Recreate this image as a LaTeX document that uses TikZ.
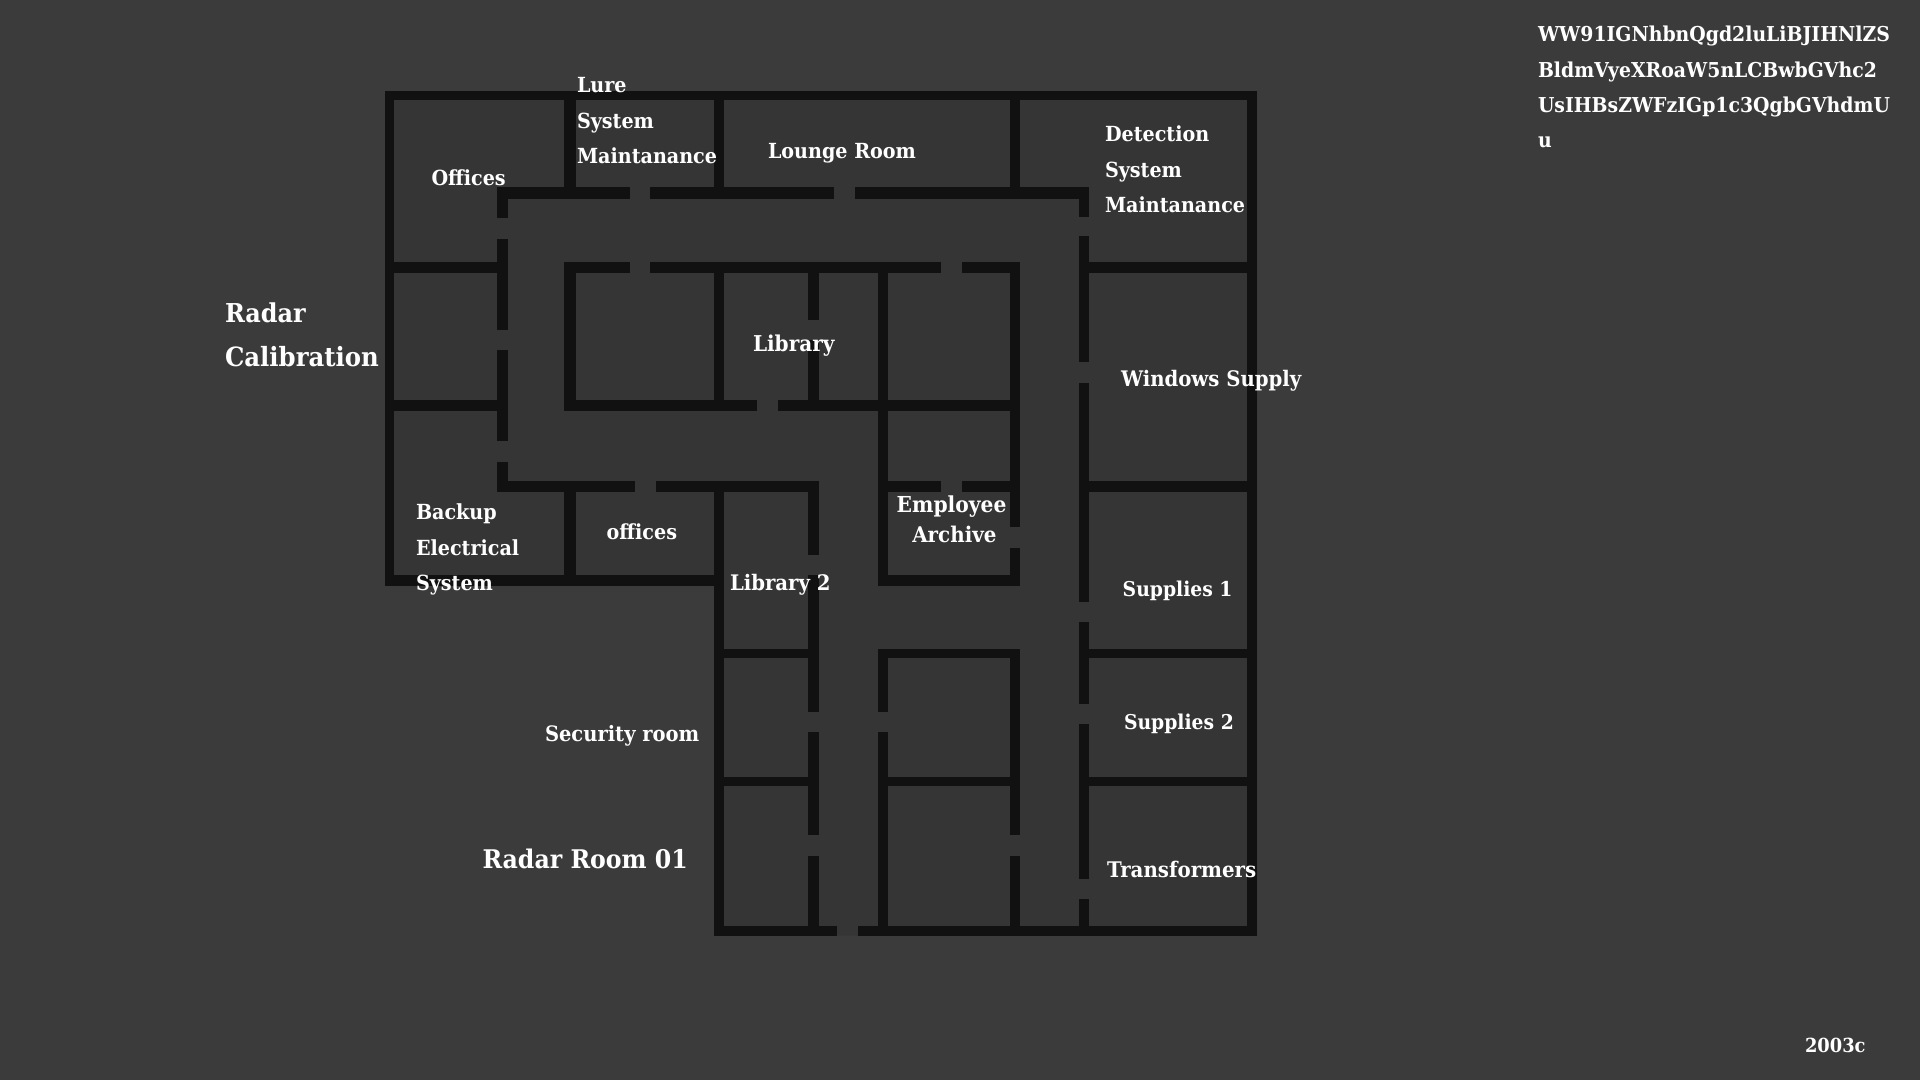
\documentclass[tikz,border=0pt]{standalone}
\usepackage{fontspec}
\setmainfont{DejaVu Serif}[BoldFeatures={FakeStretch=0.92}]
\definecolor{bgc}{HTML}{3B3B3B}
\definecolor{floorc}{HTML}{353535}
\definecolor{wallc}{HTML}{111111}
\newcommand{\wall}[4]{\fill[wallc] (#1,#2) rectangle (#3,#4);}
\tikzset{
  lab/.style={text=white,font=\fontsize{10.4pt}{12pt}\selectfont\bfseries,anchor=base west,inner sep=0pt,outer sep=0pt},
  fs/.style={font=\fontsize{#1pt}{12pt}\selectfont\bfseries},
  biglab/.style={lab,fs=13}
}
\begin{document}
\begin{tikzpicture}[x=0.5pt,y=-0.5pt]
\useasboundingbox (0,0) rectangle (1920,1080);
\fill[bgc] (0,0) rectangle (1920,1080);
% floor
\fill[floorc] (385,91) -- (1257,91) -- (1257,935.7) -- (714,935.7) -- (714,586) -- (385,586) -- cycle;
% outer walls
\wall{385}{91}{1257}{100.5}
\wall{385}{91}{394}{586}
\wall{1247}{91}{1257}{935.7}
\wall{385}{575}{724}{586}
\wall{714}{926}{837}{935.7}
\wall{857.5}{926}{1257}{935.7}
\wall{714}{491}{724}{935.7}
% upper partitions
\wall{564}{100}{575.5}{199}
\wall{714}{100}{724}{199}
\wall{1010}{100}{1020}{199}
\wall{497}{187.5}{629.5}{199}
\wall{650}{187.5}{834}{199}
\wall{854.5}{187.5}{1089}{199}
% west corridor wall
\wall{497}{187.5}{508}{218.5}
\wall{497}{239}{508}{330}
\wall{497}{350}{508}{441}
\wall{497}{461.5}{508}{491.5}
\wall{394}{262.5}{497}{273.5}
\wall{394}{399.5}{497}{410.5}
% central block
\wall{564}{262.5}{629.5}{273.5}
\wall{650}{262.5}{940.5}{273.5}
\wall{961.5}{262.5}{1020}{273.5}
\wall{564}{262.5}{575.5}{410.5}
\wall{714}{262.5}{724}{410.5}
\wall{808}{262.5}{818.5}{320}
\wall{808}{340}{818.5}{410.5}
\wall{878}{262.5}{888}{586}
\wall{1010}{262.5}{1020}{527}
\wall{1010}{547.5}{1020}{586}
\wall{564}{399.5}{757}{410.5}
\wall{777.5}{399.5}{1020}{410.5}
% lower corridor north wall
\wall{497}{480.5}{635}{491.5}
\wall{656}{480.5}{818.5}{491.5}
\wall{564}{480.5}{575.5}{586}
\wall{714}{480.5}{724}{586}
\wall{808}{480.5}{818.5}{555}
\wall{808}{575}{818.5}{712}
\wall{808}{732.3}{818.5}{835.3}
\wall{808}{856}{818.5}{935.7}
\wall{878}{480.5}{940.5}{491.5}
\wall{961.5}{480.5}{1020}{491.5}
\wall{878}{575}{1020}{586}
% south block
\wall{724}{649}{808}{657.7}
\wall{724}{777.3}{808}{786.3}
\wall{878}{649}{1020}{657.7}
\wall{878}{649}{888}{712}
\wall{878}{732.3}{888}{935.7}
\wall{1009.5}{649}{1020}{835.3}
\wall{1009.5}{856}{1020}{935.7}
\wall{888}{777.3}{1010}{786.3}
% east corridor wall
\wall{1078.5}{187.5}{1089}{217}
\wall{1078.5}{236.5}{1089}{362}
\wall{1078.5}{382.5}{1089}{601.5}
\wall{1078.5}{622}{1089}{704}
\wall{1078.5}{724.3}{1089}{879}
\wall{1078.5}{899.3}{1089}{935.7}
\wall{1089}{262.5}{1247}{273.5}
\wall{1089}{480.5}{1247}{491.5}
\wall{1089}{649}{1247}{657.7}
\wall{1089}{777.3}{1247}{786.3}
% labels
\node[biglab] (radar1) at (225,322.5) {Radar};
\node[biglab,fs=13.25] (radar2) at (225,366) {Calibration};
\node[lab] (lure1) at (577,92.7) {Lure};
\node[lab] (lure2) at (577,129) {System};
\node[lab] (lure3) at (577,163.7) {Maintanance};
\node[lab] (off1) at (431.5,185.7) {Offices};
\node[lab] (lounge) at (768,159) {Lounge Room};
\node[lab] (det1) at (1105,142) {Detection};
\node[lab] (det2) at (1105,178) {System};
\node[lab] (det3) at (1105,213) {Maintanance};
\node[lab,fs=10.9] (lib1) at (753,351) {Library};
\node[lab,fs=10.7] (win) at (1121,386.7) {Windows Supply};
\node[lab] (bak1) at (416,519) {Backup};
\node[lab] (bak2) at (416,555.7) {Electrical};
\node[lab] (bak3) at (416,590.7) {System};
\node[lab] (off2) at (606.7,539) {offices};
\node[lab,fs=10.7] (lib2) at (730,590.7) {Library 2};
\node[lab,fs=11] (emp1) at (896.7,512.7) {Employee};
\node[lab,fs=10.8] (emp2) at (912.3,542.3) {Archive};
\node[lab,fs=10.2] (sup1) at (1122.7,596.7) {Supplies 1};
\node[lab,fs=10.2] (sup2) at (1124,729) {Supplies 2};
\node[lab,fs=10.6] (sec) at (545,741) {Security room};
\node[lab,fs=10.75] (trans) at (1107,877.8) {Transformers};
\node[biglab,fs=12.85] (rr) at (482.5,868.3) {Radar Room 01};
\node[lab,fs=10.25] (t1) at (1538,41.3) {WW91IGNhbnQgd2luLiBJIHNlZS};
\node[lab,fs=10.25] (t2) at (1538,77.7) {BldmVyeXRoaW5nLCBwbGVhc2};
\node[lab,fs=10.25] (t3) at (1538,112.3) {UsIHBsZWFzIGp1c3QgbGVhdmU};
\node[lab,fs=10.25] (t4) at (1538,147.7) {u};
\node[lab,fs=9.7] (yr) at (1805,1052) {2003c};
\end{tikzpicture}
\end{document}
